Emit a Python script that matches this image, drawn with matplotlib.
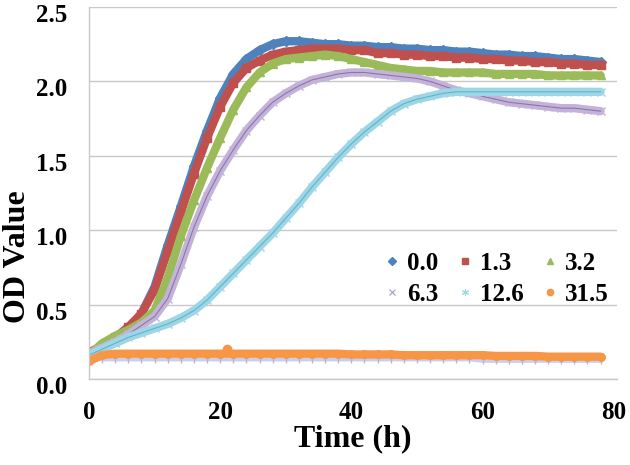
import numpy as np
import matplotlib
matplotlib.use('Agg')
import matplotlib.pyplot as plt
import matplotlib.transforms as mtransforms

plt.rcParams['font.family'] = ['Liberation Serif', 'DejaVu Serif']
plt.rcParams['font.weight'] = 'bold'

# time points (h)
hours = list(range(0, 80, 2))

# OD values, one list per concentration
od_0_0 = [0.18, 0.20, 0.26, 0.33, 0.44, 0.62, 0.90, 1.16, 1.43, 1.67,
          1.89, 2.05, 2.15, 2.21, 2.25, 2.27, 2.27, 2.26, 2.25, 2.25,
          2.24, 2.24, 2.23, 2.23, 2.22, 2.22, 2.21, 2.21, 2.20, 2.20,
          2.19, 2.18, 2.18, 2.17, 2.17, 2.16, 2.15, 2.15, 2.14, 2.13]
od_1_3 = [0.18, 0.22, 0.28, 0.35, 0.44, 0.60, 0.86, 1.12, 1.38, 1.62,
          1.83, 1.99, 2.09, 2.14, 2.18, 2.20, 2.21, 2.22, 2.22, 2.22,
          2.21, 2.21, 2.19, 2.19, 2.18, 2.18, 2.17, 2.17, 2.16, 2.16,
          2.15, 2.15, 2.14, 2.14, 2.13, 2.13, 2.12, 2.12, 2.11, 2.11]
od_3_2 = [0.16, 0.24, 0.29, 0.33, 0.38, 0.46, 0.68, 0.96, 1.20, 1.42,
          1.62, 1.81, 1.96, 2.06, 2.12, 2.15, 2.16, 2.17, 2.18, 2.17,
          2.15, 2.13, 2.11, 2.09, 2.08, 2.07, 2.07, 2.06, 2.06, 2.06,
          2.06, 2.05, 2.05, 2.05, 2.05, 2.04, 2.04, 2.04, 2.04, 2.04]
od_6_3 = [0.17, 0.21, 0.25, 0.30, 0.36, 0.42, 0.54, 0.77, 1.02, 1.23,
          1.40, 1.54, 1.67, 1.77, 1.86, 1.92, 1.97, 2.01, 2.03, 2.05,
          2.06, 2.06, 2.05, 2.04, 2.03, 2.02, 2.00, 1.97, 1.94, 1.92,
          1.90, 1.88, 1.86, 1.85, 1.84, 1.83, 1.82, 1.82, 1.81, 1.80]
od_12_6 = [0.16, 0.20, 0.24, 0.28, 0.31, 0.34, 0.37, 0.41, 0.46, 0.53,
           0.62, 0.71, 0.80, 0.89, 0.98, 1.08, 1.18, 1.29, 1.39, 1.49,
           1.58, 1.66, 1.73, 1.80, 1.85, 1.88, 1.90, 1.92, 1.93, 1.93,
           1.93, 1.93, 1.93, 1.93, 1.93, 1.93, 1.93, 1.93, 1.93, 1.93]
od_31_5 = [0.12, 0.16, 0.17, 0.17, 0.17, 0.17, 0.17, 0.17, 0.17, 0.17,
           0.17, 0.17, 0.17, 0.17, 0.17, 0.17, 0.17, 0.17, 0.17, 0.17,
           0.165, 0.165, 0.165, 0.165, 0.16, 0.16, 0.16, 0.16, 0.16, 0.16,
           0.16, 0.155, 0.155, 0.155, 0.155, 0.15, 0.15, 0.15, 0.15, 0.15]
od_blank = [0.15, 0.13, 0.13, 0.13, 0.13, 0.13, 0.13, 0.13, 0.13, 0.13,
            0.13, 0.13, 0.13, 0.13, 0.13, 0.13, 0.13, 0.13, 0.13, 0.13,
            0.13, 0.13, 0.13, 0.13, 0.13, 0.13, 0.13, 0.13, 0.13, 0.13,
            0.12, 0.12, 0.12, 0.12, 0.12, 0.12, 0.12, 0.12, 0.12, 0.12]
# single stray reading of the 31.5 well
spike_t = [21]
spike_od = [0.20]

labels = ['0.0', '1.3', '3.2', '6.3', '12.6', '31.5']
colors = ['#4F81BD', '#C0504D', '#9BBB59', '#8064A2', '#4BACC6', '#F79646']
light = {'6.3': '#C3B3D8', '12.6': '#9ED6E6'}

fig = plt.figure(figsize=(6.3, 4.65), dpi=100)
ax = fig.add_axes([89 / 630, 1 - 379 / 465, 528 / 630, 372 / 465])

series = [od_0_0, od_1_3, od_3_2, od_6_3, od_12_6, od_31_5]
markers = ['D', 's', '^', 'x', 'x', 'o']
handles = []
for lab, vals, c, m in zip(labels, series, colors, markers):
    if lab in light:
        ax.plot(hours, vals, color=light[lab], lw=6, solid_capstyle='round', zorder=2)
        ax.plot(hours, vals, ls='none', marker='x', ms=6, mew=1, color=light[lab], zorder=2)
        ax.plot(hours, vals, color=c, lw=0.8, alpha=0.8, zorder=2)
    else:
        ax.plot(hours, vals, color=c, lw=6, solid_capstyle='round', zorder=2)
        ax.plot(hours, vals, ls='none', marker=m, ms=5.5, color=c, zorder=2)
    if lab == '12.6':
        h, = ax.plot([], [], ls='none', marker=(6, 2, 0), ms=5, mew=0.8, color=light[lab])
    elif lab == '6.3':
        h, = ax.plot([], [], ls='none', marker='x', ms=5, mew=0.8, color='#A99BC0')
    else:
        h, = ax.plot([], [], ls='none', marker=m, ms=4.5, color=c)
    handles.append(h)

ax.plot(spike_t, spike_od, ls='none', marker='o', ms=6, color=colors[5], zorder=3)
ax.plot(hours, od_blank, color='#C9D0EE', lw=2.5, zorder=1.5)
ax.plot(hours, od_blank, ls='none', marker='|', ms=5, color='#AEB8E3', zorder=1.5)

ax.set_xlim(0, 80.5)
ax.set_ylim(0, 2.5)
ax.set_xticks([0, 20, 40, 60, 80])
ax.set_yticks(np.arange(0, 2.51, 0.5))
ax.set_yticklabels(['%.1f' % v for v in np.arange(0, 2.51, 0.5)])
ax.tick_params(length=0, labelsize=18, pad=16)
ax.tick_params(axis='x', pad=16)
for t in ax.get_xticklabels() + ax.get_yticklabels():
    t.set_fontweight('bold')
# y labels sit a little below their gridlines, as in the original
shift = mtransforms.ScaledTranslation(0, -6 / 100, fig.dpi_scale_trans)
for t in ax.get_yticklabels():
    t.set_transform(t.get_transform() + shift)
ax.grid(axis='y', color='#C8C8C8', lw=1)
ax.set_axisbelow(True)
for s in ['top', 'right']:
    ax.spines[s].set_visible(False)
for s in ['left', 'bottom']:
    ax.spines[s].set_color('#C8C8C8')
    ax.spines[s].set_linewidth(1)

ax.set_xlabel('Time (h)', fontsize=23, fontweight='bold', labelpad=0)
ax.set_ylabel('OD Value', fontsize=23, fontweight='bold')
ax.yaxis.set_label_coords(-0.108, 0.328)

# legend fills row by row: 0.0 1.3 3.2 / 6.3 12.6 31.5
order = [0, 3, 1, 4, 2, 5]
leg = fig.legend([handles[i] for i in order], [labels[i] for i in order],
                 loc='upper left', bbox_to_anchor=(386 / 630, 1 - 252 / 465),
                 ncol=3, frameon=False, handlelength=0.5, handletextpad=0.35,
                 columnspacing=0.8, borderpad=0, borderaxespad=0, labelspacing=0.3,
                 prop={'weight': 'bold', 'size': 18})

fig.savefig('out.png', dpi=100)
